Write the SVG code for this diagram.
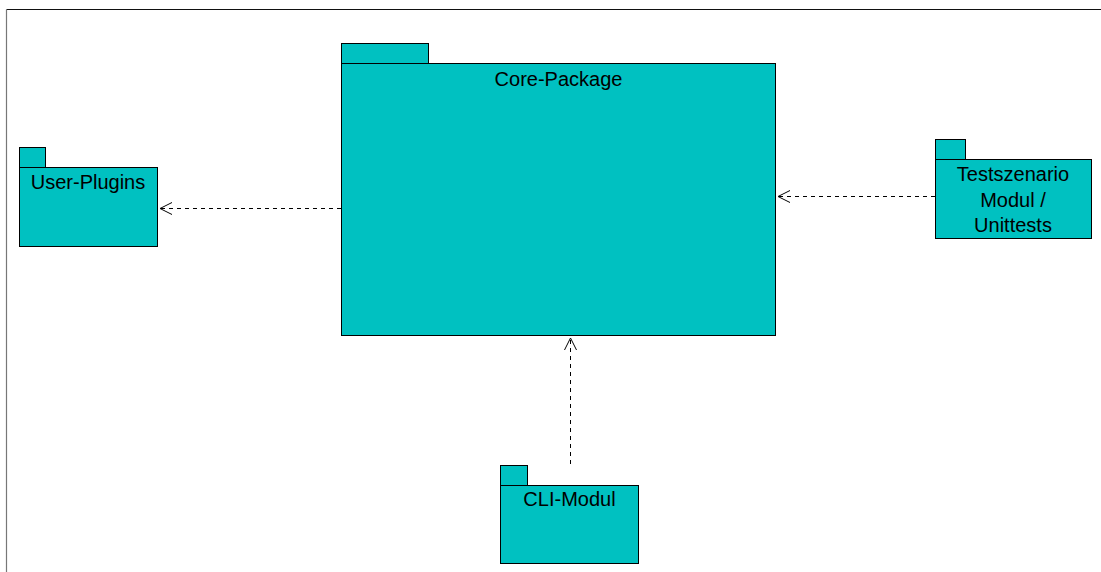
<svg xmlns="http://www.w3.org/2000/svg" width="1101" height="572" viewBox="0 0 1101 572">
  <style>
    .pkg { fill: #00C1C1; stroke: #000; stroke-width: 1; }
    .lbl { font-family: "Liberation Sans", Arial, sans-serif; font-size: 20px; fill: #000; text-anchor: middle; }
    .dep { fill: none; stroke: #000; stroke-width: 1; stroke-dasharray: 4 4; }
    .head { fill: none; stroke: #000; stroke-width: 1; }
  </style>
  <rect width="1101" height="572" fill="#fff"/>
  <!-- frame -->
  <line x1="6.5" y1="9.5" x2="1101" y2="9.5" stroke="#111" stroke-width="1.2"/>
  <line x1="6.5" y1="9.5" x2="6.5" y2="572" stroke="#777" stroke-width="1.2"/>

  <g id="core-package">
    <rect class="pkg" x="341.5" y="43.5" width="87" height="20"/>
    <rect class="pkg" x="341.5" y="63.5" width="434" height="272"/>
    <text class="lbl" x="558.5" y="86">Core-Package</text>
  </g>

  <g id="user-plugins">
    <rect class="pkg" x="19.5" y="147.5" width="26" height="20"/>
    <rect class="pkg" x="19.5" y="167.5" width="138" height="79"/>
    <text class="lbl" x="88" y="189">User-Plugins</text>
  </g>

  <g id="testszenario-modul">
    <rect class="pkg" x="935.5" y="139.5" width="30" height="20"/>
    <rect class="pkg" x="935.5" y="159.5" width="156" height="79"/>
    <text class="lbl" x="1013" y="181">Testszenario</text>
    <text class="lbl" x="1013" y="207">Modul /</text>
    <text class="lbl" x="1013" y="232">Unittests</text>
  </g>

  <g id="cli-modul">
    <rect class="pkg" x="500.5" y="465.5" width="27" height="20"/>
    <rect class="pkg" x="500.5" y="485.5" width="138" height="78"/>
    <text class="lbl" x="569.5" y="506">CLI-Modul</text>
  </g>

  <g id="connectors">
    <!-- Core-Package to User-Plugins -->
    <line class="dep" x1="341" y1="208.5" x2="160" y2="208.5"/>
    <polyline class="head" points="172,202.5 160,208.5 172,214.5"/>
    <!-- Testszenario to Core-Package -->
    <line class="dep" x1="935" y1="196.5" x2="778" y2="196.5"/>
    <polyline class="head" points="790,190.5 778,196.5 790,202.5"/>
    <!-- CLI-Modul to Core-Package -->
    <line class="dep" x1="570.5" y1="464" x2="570.5" y2="338"/>
    <polyline class="head" points="564.5,350 570.5,338 576.5,350"/>
  </g>
</svg>
